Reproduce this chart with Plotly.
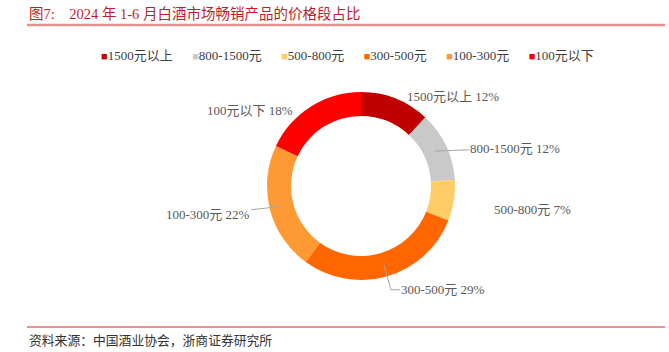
import math
import plotly.graph_objects as go

categories = ["1500元以上", "800-1500元", "500-800元", "300-500元", "100-300元", "100元以下"]
shares = [12, 12, 7, 29, 22, 18]
colors = ["#C00000", "#C9C9C9", "#FFCC66", "#FF6600", "#FF9933", "#FF0000"]

title_text = "图7:&nbsp;&nbsp;&nbsp;&nbsp;2024 年 1-6 月白酒市场畅销产品的价格段占比"
source_text = "资料来源：中国酒业协会，浙商证券研究所"

W, H = 669, 352
FONT = "Liberation Serif, Times New Roman, Noto Sans CJK SC, serif"

# pie geometry (pixels)
cx, cy, R = 361, 186, 94
hole = 0.745
dom_x = [(cx - R) / W, (cx + R) / W]
dom_y = [(H - cy - R) / H, (H - cy + R) / H]

fig = go.Figure()
fig.add_trace(go.Pie(
    labels=categories, values=shares, sort=False, direction="clockwise",
    rotation=0, hole=hole, marker=dict(colors=colors, line=dict(width=0)),
    textinfo="none", hoverinfo="label+percent",
    domain=dict(x=dom_x, y=dom_y), showlegend=False,
))

# label placement: (dx, dy) pixel offsets of label centre from slice mid-ring point, leader style
label_style = [(62, -13, None), (80, -3, "straight"), (90, 11, None),
               (59, 25, "elbow"), (-74, 8, "straight"), (-67, -6, None)]

total = sum(shares)
cum = 0
r_mid = R * (1 + hole) / 2
annotations = []
shapes = []
lab_font = dict(family=FONT, size=13, color="#595959")
for cat, v, (dx, dy, line) in zip(categories, shares, label_style):
    ang = (cum + v / 2) / total * 2 * math.pi
    cum += v
    px = cx + r_mid * math.sin(ang)
    py = cy - r_mid * math.cos(ang)
    xp, yp = px / W, (H - py) / H
    txt = f"{cat} {round(v / total * 100)}%"
    if line == "straight":
        annotations.append(dict(x=xp, y=yp, xref="paper", yref="paper", text=txt,
                                showarrow=True, ax=dx, ay=dy, arrowhead=0,
                                arrowwidth=1, arrowcolor="#A6A6A6", standoff=0,
                                xanchor="center", yanchor="middle", font=lab_font))
    else:
        annotations.append(dict(x=xp, y=yp, xref="paper", yref="paper", text=txt,
                                showarrow=False, xshift=dx, yshift=-dy,
                                xanchor="center", yanchor="middle", font=lab_font))
        if line == "elbow":
            ly = py + dy
            lx_end = px + dx - 43
            p = (f"M {px / W} {(H - py) / H} L {(px + 7) / W} {(H - ly) / H} "
                 f"L {lx_end / W} {(H - ly) / H}")
            shapes.append(dict(type="path", xref="paper", yref="paper", path=p,
                               line=dict(color="#A6A6A6", width=1)))

# legend row (coloured squares + category names)
legend_text = "&nbsp;&nbsp;&nbsp;&nbsp;&nbsp;&nbsp;".join(
    f"<span style='color:{c};font-size:11px'>■</span>{cat}" for cat, c in zip(categories, colors))
annotations.append(dict(x=348 / W, y=1 - 55 / H, xref="paper", yref="paper",
                        xanchor="center", yanchor="middle", text=legend_text, showarrow=False,
                        font=dict(family=FONT, size=13, color="#404040")))

annotations.append(dict(x=27 / W, y=1 - 14 / H, xref="paper", yref="paper",
                        xanchor="left", yanchor="middle", text=title_text, showarrow=False,
                        font=dict(family=FONT, size=14.5, color="#BE1E2D")))
annotations.append(dict(x=27 / W, y=1 - 340 / H, xref="paper", yref="paper",
                        xanchor="left", yanchor="middle", text=source_text, showarrow=False,
                        font=dict(family=FONT, size=12.8, color="#333333")))

shapes += [
    dict(type="line", xref="paper", yref="paper", x0=27 / W, x1=665 / W,
         y0=1 - 25 / H, y1=1 - 25 / H, line=dict(color="#E58F8F", width=2.5)),
    dict(type="line", xref="paper", yref="paper", x0=27 / W, x1=665 / W,
         y0=1 - 327 / H, y1=1 - 327 / H, line=dict(color="#E07070", width=1.5)),
]

fig.update_layout(
    width=W, height=H, margin=dict(l=0, r=0, t=0, b=0),
    paper_bgcolor="white", plot_bgcolor="white",
    font=dict(family=FONT, size=12, color="#404040"),
    annotations=annotations, shapes=shapes, showlegend=False,
)

fig.write_html("out.html")
